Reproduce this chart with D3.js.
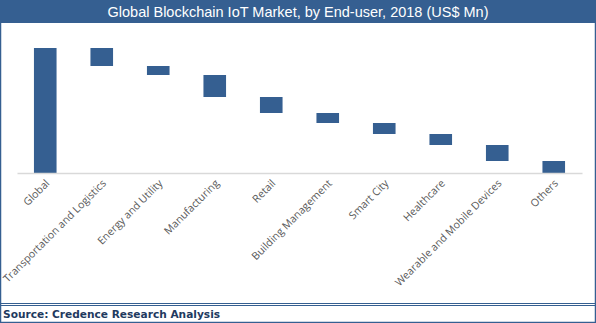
<!DOCTYPE html>
<html>
<head>
<meta charset="utf-8">
<script src="https://cdn.jsdelivr.net/npm/d3@7.9.0/dist/d3.min.js"></script>
<style>
  body { margin: 0; background: #fff; }
  svg { display: block; }
</style>
</head>
<body>
<svg id="chart" width="596" height="323"></svg>
<script>
const categories = [
  "Global", "Transportation and Logistics", "Energy and Utility", "Manufacturing",
  "Retail", "Building Management", "Smart City", "Healthcare",
  "Wearable and Mobile Devices", "Others"
];
// Global total, then each end-user share stacked down from the top
const globalTotal = 125;
const segmentValues = [18, 9, 22, 16, 10, 11, 11, 16, 12];

const titleText = "Global Blockchain IoT Market, by End-user, 2018 (US$ Mn)";
const sourceText = "Source: Credence Research Analysis";

const width = 596, height = 323;
const blue = "#355f91";
const svg = d3.select("#chart");

// build waterfall rows
let running = globalTotal;
const rows = [{ name: categories[0], start: 0, end: globalTotal }];
segmentValues.forEach((v, i) => {
  rows.push({ name: categories[i + 1], start: running - v, end: running });
  running -= v;
});

const x = d3.scaleBand().domain(categories).range([17, 582]).paddingInner(0.6).paddingOuter(0.3);
const y = d3.scaleLinear().domain([0, globalTotal]).range([173, 48]);

// outer frame
svg.append("rect").attr("x", 0.5).attr("y", 0.5).attr("width", width - 1).attr("height", height - 1)
  .attr("fill", "none").attr("stroke", blue).attr("stroke-width", 1.5);

// title band
svg.append("rect").attr("x", 0).attr("y", 0).attr("width", width).attr("height", 23).attr("fill", blue);
svg.append("text")
  .attr("x", width / 2).attr("y", 17)
  .attr("text-anchor", "middle")
  .style("font-family", "'Liberation Sans', Arial, sans-serif")
  .style("font-size", "14.5px")
  .attr("fill", "#fff")
  .text(titleText);

// bars
svg.append("g").selectAll("rect").data(rows).join("rect")
  .attr("x", d => x(d.name))
  .attr("width", x.bandwidth())
  .attr("y", d => y(d.end))
  .attr("height", d => y(d.start) - y(d.end))
  .attr("fill", blue);

// category axis
const xAxis = svg.append("g")
  .attr("transform", `translate(0, ${y(0)})`)
  .call(d3.axisBottom(x).tickSize(0).tickSizeOuter(0));
xAxis.select(".domain").attr("stroke", "#d9d9d9").attr("stroke-width", 1.5);
xAxis.selectAll("text")
  .attr("text-anchor", "end")
  .attr("dy", 0)
  .attr("y", 0)
  .attr("transform", "translate(5, 11) rotate(-45)")
  .attr("fill", "#595959")
  .style("font-family", "'Open Sans', sans-serif")
  .style("font-size", "10.6px");

// footer rules and source
svg.append("line").attr("x1", 0).attr("x2", width).attr("y1", 303.5).attr("y2", 303.5).attr("stroke", blue);
svg.append("line").attr("x1", 0).attr("x2", width).attr("y1", 305.5).attr("y2", 305.5).attr("stroke", blue);
svg.append("text")
  .attr("x", 3).attr("y", 318)
  .attr("fill", "#1f3a60")
  .style("font-family", "'DejaVu Sans', Verdana, sans-serif")
  .style("font-weight", "bold")
  .style("font-size", "10.6px")
  .text(sourceText);
</script>
</body>
</html>
